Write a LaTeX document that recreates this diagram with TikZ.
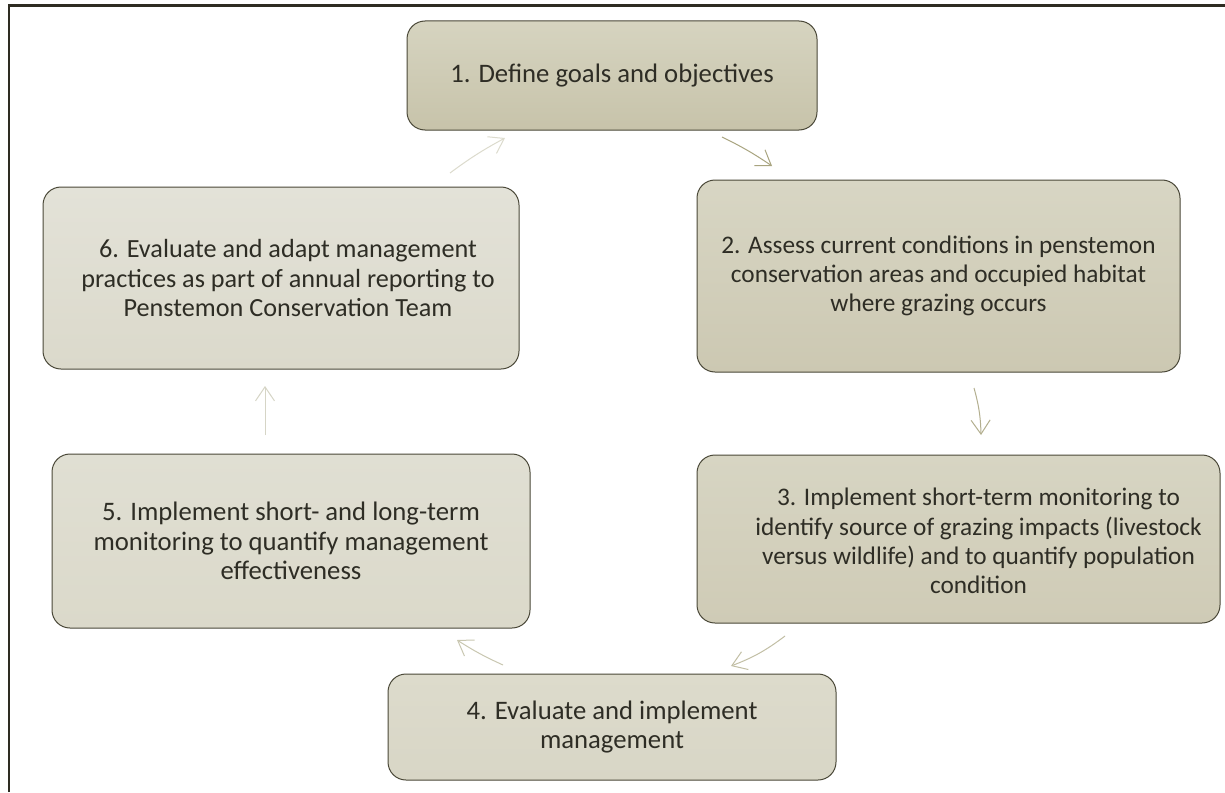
\documentclass[tikz,border=0pt]{standalone}
\usepackage{fontspec}
\setmainfont{Carlito}
\usetikzlibrary{arrows.meta}

% step box fills, light at the top, darker at the bottom
\definecolor{frameline}{HTML}{2E2C22}
\definecolor{boxline}{HTML}{4A4838}
\definecolor{boxtext}{HTML}{2E2D25}
\definecolor{fillAt}{HTML}{D6D4C0}\definecolor{fillAb}{HTML}{C7C3AA}
\definecolor{fillBt}{HTML}{D8D6C4}\definecolor{fillBb}{HTML}{CCC8B2}
\definecolor{fillCt}{HTML}{D7D5C3}\definecolor{fillCb}{HTML}{CFCBB6}
\definecolor{fillDt}{HTML}{DDDBCC}\definecolor{fillDb}{HTML}{D8D6C6}
\definecolor{fillEt}{HTML}{E0DFD3}\definecolor{fillEb}{HTML}{DBD9CA}
\definecolor{fillFt}{HTML}{E3E2D8}\definecolor{fillFb}{HTML}{DBD9CB}
% connector colours, fading round the cycle
\definecolor{arrA}{HTML}{A8A47F}
\definecolor{arrB}{HTML}{B3AF8F}
\definecolor{arrC}{HTML}{C2BFA5}
\definecolor{arrD}{HTML}{C9C7B1}
\definecolor{arrE}{HTML}{D6D5C6}
\definecolor{arrF}{HTML}{DCDBCD}

\tikzset{
  steptext/.style={align=center, text=boxtext, inner sep=0pt,
    font=\fontsize{26.7}{29.4}\selectfont},
  smalltext/.style={font=\fontsize{25.3}{29.2}\selectfont},
  stepbox/.style={steptext, draw=boxline, line width=1pt, rounded corners=18pt},
  cyclearrow/.style={line width=1pt,
    -{Straight Barb[length=14pt,width=19pt,line width=1pt]}},
}

\begin{document}
\begin{tikzpicture}[x=1pt,y=-1pt]
  \useasboundingbox (0,0) rectangle (1225,792);
  \fill[white] (0,0) rectangle (1225,792);

  % page frame (left and top edges)
  \draw[frameline, line width=2.5pt] (9,792) -- (9,5.5) -- (1225,5.5);

  % the six steps
  \node[stepbox, top color=fillAt, bottom color=fillAb,
        minimum width=410pt, minimum height=109pt] (s1) at (612,75.5)
    {1. Define goals and objectives};
  \node[stepbox, smalltext, top color=fillBt, bottom color=fillBb,
        minimum width=483pt, minimum height=192pt] (s2) at (938.5,276)
    {2. Assess current conditions in penstemon\\conservation areas and occupied habitat\\where grazing occurs};
  \node[stepbox, top color=fillCt, bottom color=fillCb,
        minimum width=523pt, minimum height=168pt] (s3) at (958.5,539) {};
  \node[steptext, smalltext] (s3t) at ([xshift=20pt,yshift=-2pt]s3.center)
    {3. Implement short-term monitoring to\\identify source of grazing impacts (livestock\\versus wildlife) and to quantify population\\condition};
  \node[stepbox, top color=fillDt, bottom color=fillDb,
        minimum width=448pt, minimum height=106pt] (s4) at (612,727)
    {4. Evaluate and implement\\management};
  \node[stepbox, top color=fillEt, bottom color=fillEb,
        minimum width=478pt, minimum height=174pt] (s5) at (291,541)
    {5. Implement short- and long-term\\monitoring to quantify management\\effectiveness};
  \node[stepbox, top color=fillFt, bottom color=fillFb,
        minimum width=476pt, minimum height=182pt] (s6) at (281,278) {};
  \node[steptext, font=\fontsize{26.2}{29.4}\selectfont] (s6t) at ([xshift=7pt]s6.center)
    {6. Evaluate and adapt management\\practices as part of annual reporting to\\Penstemon Conservation Team};

  % connector end points in the gaps between the steps
  \coordinate (c12a) at (722,137);  \coordinate (c12b) at (772,166);
  \coordinate (c23a) at (974,388);  \coordinate (c23b) at (981,435);
  \coordinate (c34a) at (785,636);  \coordinate (c34b) at (731,666);
  \coordinate (c45a) at (503,665);  \coordinate (c45b) at (457,640);
  \coordinate (c56a) at (265,435);  \coordinate (c56b) at (265,386);
  \coordinate (c61a) at (450,173);  \coordinate (c61b) at (505,138);

  \draw[cyclearrow, arrA] (c12a) to[bend left=4] (c12b);
  \draw[cyclearrow, arrB] (c23a) to[bend left=7] (c23b);
  \draw[cyclearrow, arrC] (c34a) to[bend left=8] (c34b);
  \draw[cyclearrow, arrD] (c45a) to[bend left=4] (c45b);
  \draw[cyclearrow, arrE] (c56a) -- (c56b);
  \draw[cyclearrow, arrF] (c61a) to[bend left=4] (c61b);
\end{tikzpicture}
\end{document}
